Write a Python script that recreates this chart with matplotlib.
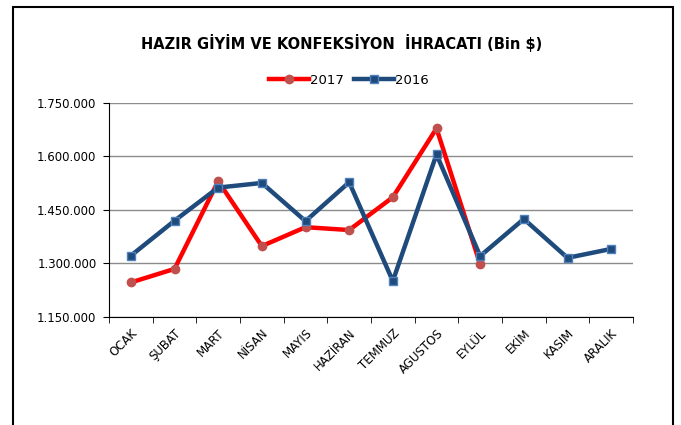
import numpy as np
import matplotlib.pyplot as plt
from matplotlib.patches import Rectangle
from matplotlib.ticker import FuncFormatter

months = ["OCAK", "ŞUBAT", "MART", "NİSAN", "MAYIS", "HAZİRAN",
          "TEMMUZ", "AGUSTOS", "EYLÜL", "EKİM", "KASIM", "ARALIK"]
exports_2017 = [1246000, 1284000, 1530000, 1348000, 1401000, 1393000,
                1485000, 1678000, 1297000]
exports_2016 = [1321000, 1419000, 1512000, 1525000, 1418000, 1527000,
                1250000, 1605000, 1320000, 1424000, 1315000, 1340000]
yticks = [1150000, 1300000, 1450000, 1600000, 1750000]

# the source picture is stretched sideways, a wide sans fits it better than Arial
plt.rcParams["font.family"] = ["DejaVu Sans"]

fig = plt.figure(figsize=(6.81, 4.25), dpi=100)
ax = fig.add_axes([109 / 681, 1 - 316.7 / 425, (633 - 109) / 681, (316.7 - 102.7) / 425])

# outer frame of the chart box
frame = Rectangle((13 / 681, -0.1), (673 - 13) / 681, 1.1 - 7 / 425,
                  transform=fig.transFigure, fill=False, edgecolor="black",
                  linewidth=1.5, clip_on=False)
fig.patches.append(frame)

x17 = np.arange(len(exports_2017))
x16 = np.arange(len(exports_2016))

ax.plot(x17, exports_2017, color="#ff0000", linewidth=3.2, marker="o",
        markersize=6, markerfacecolor="#c0504d", markeredgecolor="#c0504d",
        label="2017", zorder=3)
ax.plot(x16, exports_2016, color="#1f4a7c", linewidth=3.2, marker="s",
        markersize=6, markerfacecolor="#1f4a7c", markeredgecolor="#4f81bd",
        markeredgewidth=1, label="2016", zorder=4)

ax.set_xlim(-0.5, len(months) - 0.5)
ax.set_ylim(yticks[0], yticks[-1])
ax.set_yticks(yticks)
ax.yaxis.set_major_formatter(FuncFormatter(lambda v, p: "{:,.0f}".format(v).replace(",", ".")))
ax.grid(axis="y", color="#8c8c8c", linewidth=1)
ax.set_axisbelow(True)

ax.set_xticks(np.arange(len(months)))
ax.set_xticklabels(months, rotation=45, ha="right", va="top", rotation_mode="anchor")
ax.set_xticks(np.arange(-0.5, len(months)), minor=True)
ax.tick_params(axis="x", which="major", length=0, pad=7, labelsize=8.5)
ax.tick_params(axis="x", which="minor", length=4, direction="out", color="black")
ax.tick_params(axis="y", length=4, direction="out", labelsize=8.5, pad=5)

for side in ["top", "right"]:
    ax.spines[side].set_visible(False)
ax.spines["left"].set_color("black")
ax.spines["bottom"].set_color("black")

fig.text(342 / 681, 1 - 43 / 425, "HAZIR GİYİM VE KONFEKSİYON  İHRACATI (Bin $)",
         ha="center", va="center", fontsize=10.5, fontweight="bold")

fig.legend(loc="center", bbox_to_anchor=(349 / 681, 1 - 80 / 425), ncol=2,
           frameon=False, fontsize=9.5, handlelength=3.0, handletextpad=0.1,
           columnspacing=0.8)

fig.savefig("out.png", dpi=100)
